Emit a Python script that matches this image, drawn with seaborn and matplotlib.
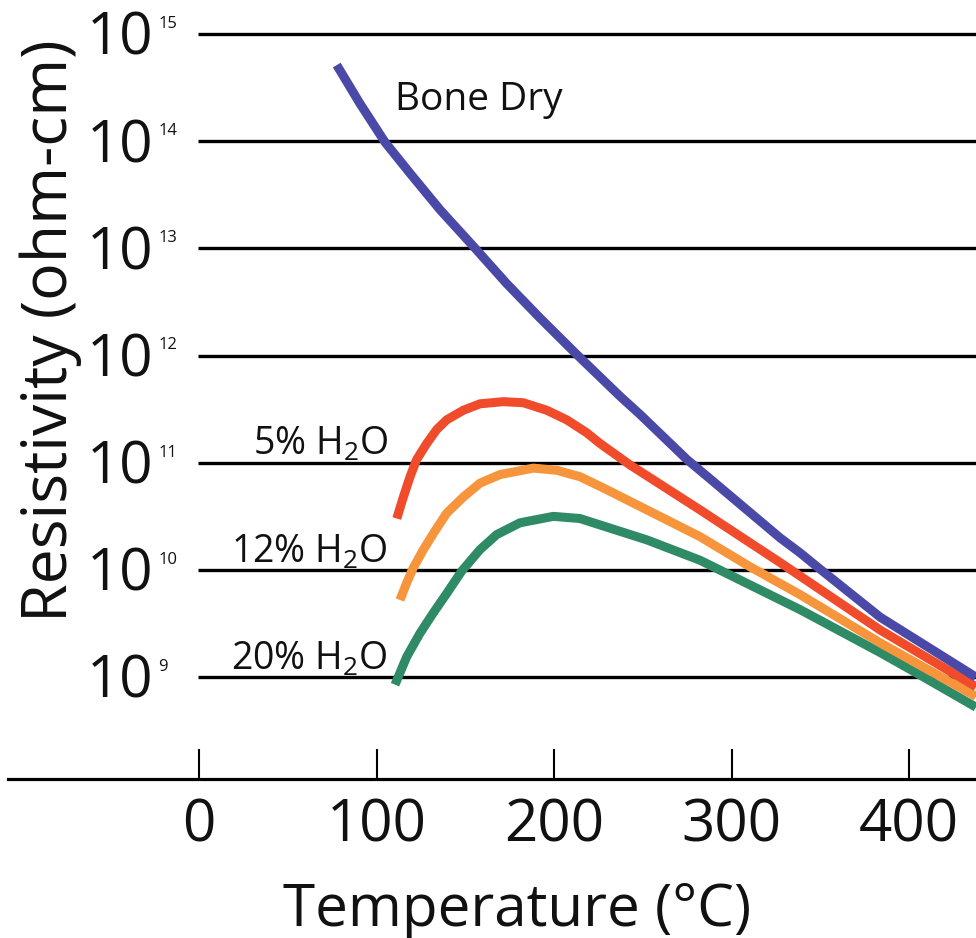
import numpy as np
import pandas as pd
import matplotlib
matplotlib.use("Agg")
import matplotlib.pyplot as plt
import seaborn as sns

# values (temperature in deg C, log10 of resistivity in ohm-cm)
bone_t = [77.6, 90.7, 104.8, 118.9, 135.8, 154.5, 173.4, 192.1, 212.8, 237.2, 248.5,
          274.9, 287.9, 327.3, 338.6, 348.2, 383.7, 437.7]
bone_log = [14.71, 14.35, 13.99, 13.70, 13.36, 13.02, 12.67, 12.35, 12.01, 11.62, 11.45,
            11.03, 10.85, 10.30, 10.16, 10.03, 9.56, 9.00]

h2o5_t = [111.4, 115.1, 118.9, 122.6, 128.3, 133.9, 139.5, 148.9, 158.3, 171.4, 182.7,
          195.9, 207.2, 218.4, 225.9, 242.8, 271.0, 282.3, 327.3, 383.7, 437.7]
h2o5_log = [10.48, 10.68, 10.87, 11.03, 11.18, 11.31, 11.40, 11.49, 11.55, 11.57, 11.56,
            11.49, 11.40, 11.28, 11.18, 10.98, 10.68, 10.56, 10.07, 9.44, 8.91]

h2o12_t = [113.2, 117.0, 120.7, 126.4, 132.0, 139.5, 148.9, 158.3, 169.6, 188.3, 201.5,
           214.6, 225.9, 233.2, 282.3, 310.4, 338.6, 383.7, 437.7]
h2o12_log = [9.72, 9.88, 10.02, 10.19, 10.34, 10.53, 10.68, 10.81, 10.89, 10.95, 10.93,
             10.87, 10.78, 10.72, 10.31, 10.03, 9.77, 9.32, 8.82]

h2o20_t = [110.4, 117.0, 124.5, 132.0, 139.5, 148.0, 158.3, 167.7, 180.8, 199.6, 214.6,
           225.9, 252.4, 282.3, 338.6, 383.7, 406.2, 437.7]
h2o20_log = [8.93, 9.19, 9.41, 9.60, 9.78, 9.99, 10.19, 10.33, 10.44, 10.50, 10.48,
             10.42, 10.28, 10.09, 9.63, 9.23, 9.02, 8.72]

series_names = ["20% H$_2$O", "12% H$_2$O", "5% H$_2$O", "Bone Dry"]
colors = ["#2f8a66", "#f7953d", "#f04b2b", "#4b49a8"]
decades = [9, 10, 11, 12, 13, 14, 15]
x_ticks = [0, 100, 200, 300, 400]

frames = []
for name, t, lg in [(series_names[0], h2o20_t, h2o20_log),
                    (series_names[1], h2o12_t, h2o12_log),
                    (series_names[2], h2o5_t, h2o5_log),
                    (series_names[3], bone_t, bone_log)]:
    frames.append(pd.DataFrame({"T": t, "R": 10.0 ** np.array(lg), "series": name}))
df = pd.concat(frames, ignore_index=True)

sns.set_style("white")
plt.rcParams["font.family"] = ["Open Sans", "DejaVu Sans"]
plt.rcParams["mathtext.fontset"] = "custom"
plt.rcParams["mathtext.rm"] = "Open Sans"

fig = plt.figure(figsize=(9.76, 9.38), dpi=100)
ax = fig.add_axes([8 / 976, 1 - 779 / 938, 968 / 976, 779 / 938])

x_min, x_max = -107.6, 437.7
ax.set_yscale("log")
ax.set_xlim(x_min, x_max)
ax.set_ylim(10 ** 8.05, 10 ** 15.317)

# horizontal decade lines starting at 0 deg C
ax.hlines([10.0 ** d for d in decades], -0.5, x_max, color="black", lw=2.4, zorder=1)

sns.lineplot(data=df, x="T", y="R", hue="series", palette=dict(zip(series_names, colors)),
             hue_order=series_names, estimator=None, sort=False, lw=6.5, ax=ax,
             legend=False, zorder=3)
for line in ax.get_lines():
    line.set_solid_capstyle("butt")
    line.set_solid_joinstyle("round")

for s in ["left", "top", "right"]:
    ax.spines[s].set_visible(False)
ax.spines["bottom"].set_linewidth(2.3)
ax.spines["bottom"].set_color("black")
ax.set_yticks([])
ax.minorticks_off()
ax.set_xticks(x_ticks)
ax.set_xticklabels([str(v) for v in x_ticks])
ax.tick_params(axis="x", bottom=True, direction="in", length=21.5, width=1.5, color="black",
               labelsize=42, pad=13, labelcolor="#111111")

# y tick labels drawn as "10" plus a small exponent
ytr = ax.get_yaxis_transform()
for d in decades:
    ax.annotate("10", xy=(0.150, 10.0 ** d), xycoords=ytr, xytext=(0, -15),
                textcoords="offset points", ha="right", va="baseline",
                fontsize=42, color="#111111")
    ax.annotate(str(d), xy=(0.155, 10.0 ** d), xycoords=ytr, xytext=(0, 4.5),
                textcoords="offset points", ha="left", va="baseline",
                fontsize=12, color="#111111")

# curve labels
ax.text(110.4, 10 ** 14.29, "Bone Dry", fontsize=28, ha="left", va="baseline", color="#111111")
for name, d in [(series_names[2], 11), (series_names[1], 10), (series_names[0], 9)]:
    ax.annotate(name, xy=(106.5, 10.0 ** d), xytext=(0, 5.5), textcoords="offset points",
                ha="right", va="baseline", fontsize=27, color="#111111")

ax.set_xlabel("Temperature (°C)", fontsize=42, color="#111111")
ax.xaxis.set_label_coords(0.526, -0.131, transform=ax.transAxes)
ax.xaxis.label.set_va("top")
ax.set_ylabel("Resistivity (ohm-cm)", fontsize=45, color="#111111")
ax.yaxis.set_label_coords(0.076, 0.575)

fig.savefig("out.png", dpi=100, facecolor="white")
